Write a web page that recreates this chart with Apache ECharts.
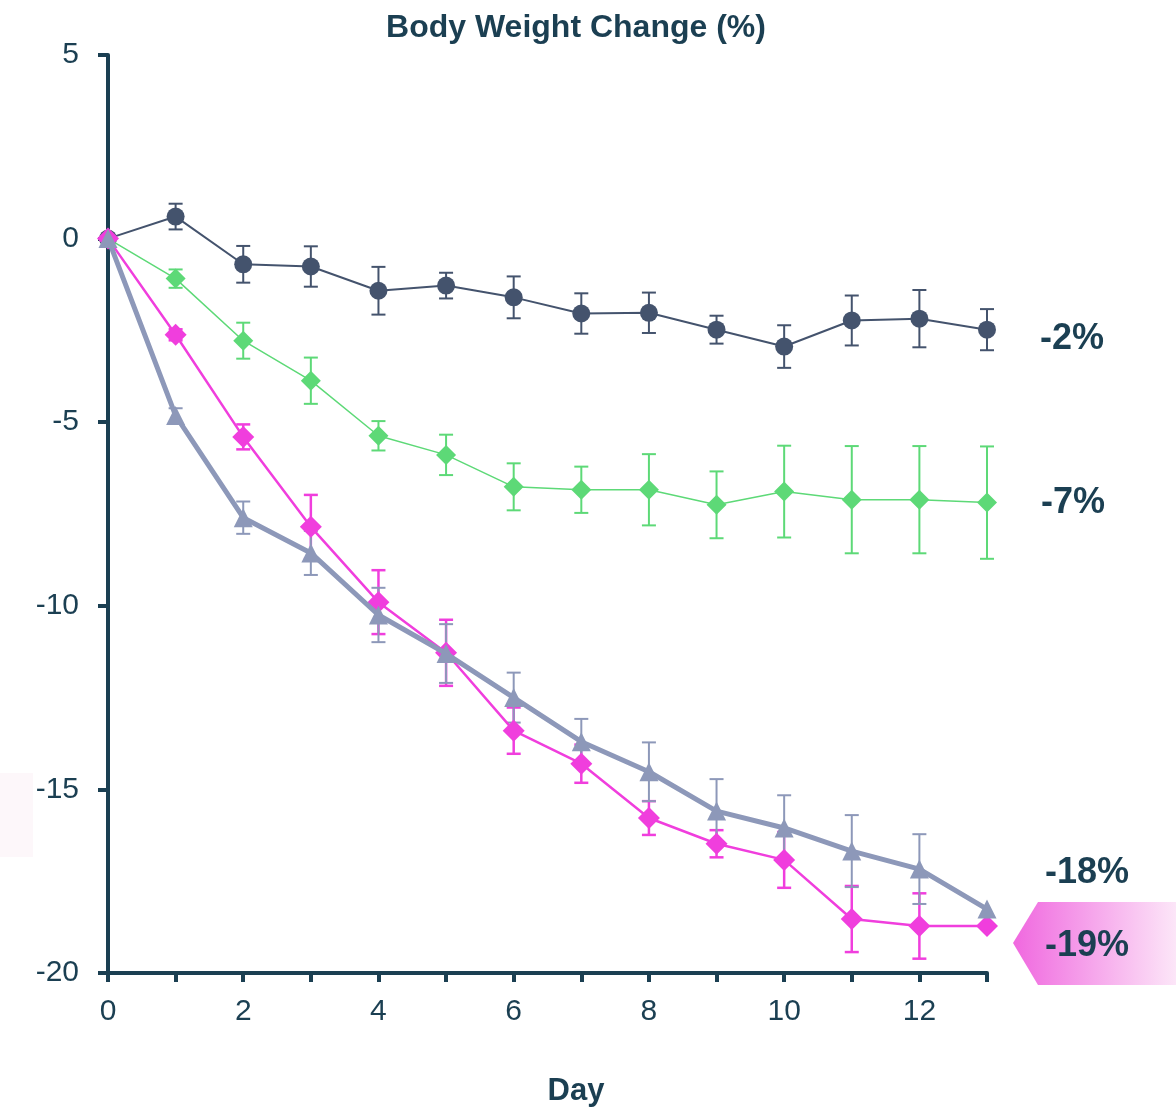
<!DOCTYPE html>
<html>
<head>
<meta charset="utf-8">
<script src="https://cdn.jsdelivr.net/npm/echarts@6/dist/echarts.min.js"></script>
<style>
html,body{margin:0;padding:0;background:#fff;}
#chart{width:1176px;height:1109px;}
</style>
</head>
<body>
<div id="chart"></div>
<script>
var days = [0,1,2,3,4,5,6,7,8,9,10,11,12,13];

var vehicleMean = [0,0.6,-0.7,-0.76,-1.42,-1.28,-1.6,-2.04,-2.02,-2.48,-2.94,-2.23,-2.18,-2.48];
var vehicleErr  = [0,0.35,0.5,0.55,0.65,0.35,0.57,0.55,0.55,0.38,0.58,0.68,0.78,0.56];

var greenMean = [0,-1.09,-2.78,-3.87,-5.37,-5.89,-6.76,-6.84,-6.84,-7.25,-6.89,-7.11,-7.11,-7.19];
var greenErr  = [0,0.25,0.49,0.63,0.4,0.55,0.64,0.63,0.97,0.91,1.25,1.46,1.46,1.53];

var magentaMean = [0,-2.62,-5.4,-7.85,-9.9,-11.28,-13.4,-14.3,-15.78,-16.48,-16.92,-18.53,-18.72,-18.72];
var magentaErr  = [0,0.15,0.34,0.87,0.87,0.9,0.63,0.52,0.46,0.37,0.76,0.9,0.89,0];

var slateMean = [0,-4.82,-7.6,-8.56,-10.25,-11.3,-12.5,-13.7,-14.52,-15.59,-16.05,-16.68,-17.17,-18.26];
var slateErr  = [0,0.2,0.44,0.6,0.74,0.8,0.68,0.62,0.8,0.87,0.89,0.98,0.95,0];

var endLabels = ['-2%','-7%','-18%','-19%'];
var yTicks = [-20,-15,-10,-5,0,5];

var TXT = '#1b3f52';
var FONT = '"Liberation Sans", Arial, Helvetica, sans-serif';

function pts(mean){ return days.map(function(d,i){ return [d, mean[i]]; }); }
function errData(mean, err){
  var out = [];
  days.forEach(function(d,i){ if (err[i] > 0) out.push([d, mean[i]-err[i], mean[i]+err[i]]); });
  return out;
}
function errSeries(mean, err, color, w){
  return {
    type: 'custom',
    data: errData(mean, err),
    z: 2,
    silent: true,
    renderItem: function(params, api){
      var x = api.value(0);
      var lo = api.coord([x, api.value(1)]);
      var hi = api.coord([x, api.value(2)]);
      var cw = 7;
      var st = {stroke: color, lineWidth: w};
      return {type:'group', children:[
        {type:'line', shape:{x1:lo[0],y1:lo[1],x2:hi[0],y2:hi[1]}, style:st},
        {type:'line', shape:{x1:lo[0]-cw,y1:lo[1],x2:lo[0]+cw,y2:lo[1]}, style:st},
        {type:'line', shape:{x1:hi[0]-cw,y1:hi[1],x2:hi[0]+cw,y2:hi[1]}, style:st}
      ]};
    }
  };
}
function lineSeries(mean, color, symbol, size, lw, z){
  return {
    type: 'line',
    data: pts(mean),
    symbol: symbol,
    symbolSize: size,
    showAllSymbol: true,
    lineStyle: {color: color, width: lw},
    itemStyle: {color: color, opacity: 1},
    z: z,
    silent: true,
    animation: false
  };
}
function label(text, x, y, size, align){
  return {type:'text', x:x, y:y, z:10,
    style:{text:text, fill:TXT, font:'bold '+size+'px '+FONT, align:align, verticalAlign:'middle'}};
}

var chart = echarts.init(document.getElementById('chart'), null, {renderer:'canvas'});
chart.setOption({
  animation: false,
  backgroundColor: '#fff',
  grid: {left:108, right:189, top:55, bottom:136, containLabel:false},
  xAxis: {
    type: 'value', min: 0, max: 13, interval: 1,
    axisLine: {show:true, onZero:false, lineStyle:{color:TXT, width:4}},
    axisTick: {show:true, length:9, lineStyle:{color:TXT, width:4}},
    axisLabel: {color:TXT, fontSize:30, fontFamily:FONT, margin:24,
      formatter: function(v){ return (v % 2 === 0) ? String(v) : ''; }},
    splitLine: {show:false}
  },
  yAxis: {
    type: 'value', min: yTicks[0], max: yTicks[yTicks.length-1], interval: 5,
    axisLine: {show:true, onZero:false, lineStyle:{color:TXT, width:4}},
    axisTick: {show:true, length:10, lineStyle:{color:TXT, width:4}},
    axisLabel: {color:TXT, fontSize:30, fontFamily:FONT, margin:29},
    splitLine: {show:false}
  },
  graphic: [
    {type:'rect', left:0, top:773, shape:{width:33, height:84}, style:{fill:'#fdf7fa'}, z:-1},
    label('Body Weight Change (%)', 576, 28, 32, 'center'),
    label('Day', 576, 1091, 31, 'center'),
    {type:'polygon', shape:{points:[[1013,943],[1038,902],[1176,902],[1176,985],[1038,985]]},
      style:{fill:{type:'linear', x:0, y:0, x2:1, y2:0, colorStops:[{offset:0,color:'#f068df'},{offset:1,color:'#fce6f8'}]}}},
    label(endLabels[0], 1040, 339, 36, 'left'),
    label(endLabels[1], 1041, 503, 36, 'left'),
    label(endLabels[2], 1045, 873, 36, 'left'),
    label(endLabels[3], 1045, 946, 36, 'left')
  ],
  series: [
    errSeries(vehicleMean, vehicleErr, '#44536d', 2),
    lineSeries(vehicleMean, '#44536d', 'circle', 18, 2, 3),
    errSeries(greenMean, greenErr, '#5dd977', 2),
    lineSeries(greenMean, '#5dd977', 'diamond', 20, 1.5, 4),
    errSeries(magentaMean, magentaErr, '#f03edd', 2.5),
    lineSeries(magentaMean, '#f03edd', 'diamond', 22, 2.5, 5),
    errSeries(slateMean, slateErr, '#8d98b9', 2),
    lineSeries(slateMean, '#8d98b9', 'triangle', 19, 5, 6)
  ]
});
</script>
</body>
</html>
